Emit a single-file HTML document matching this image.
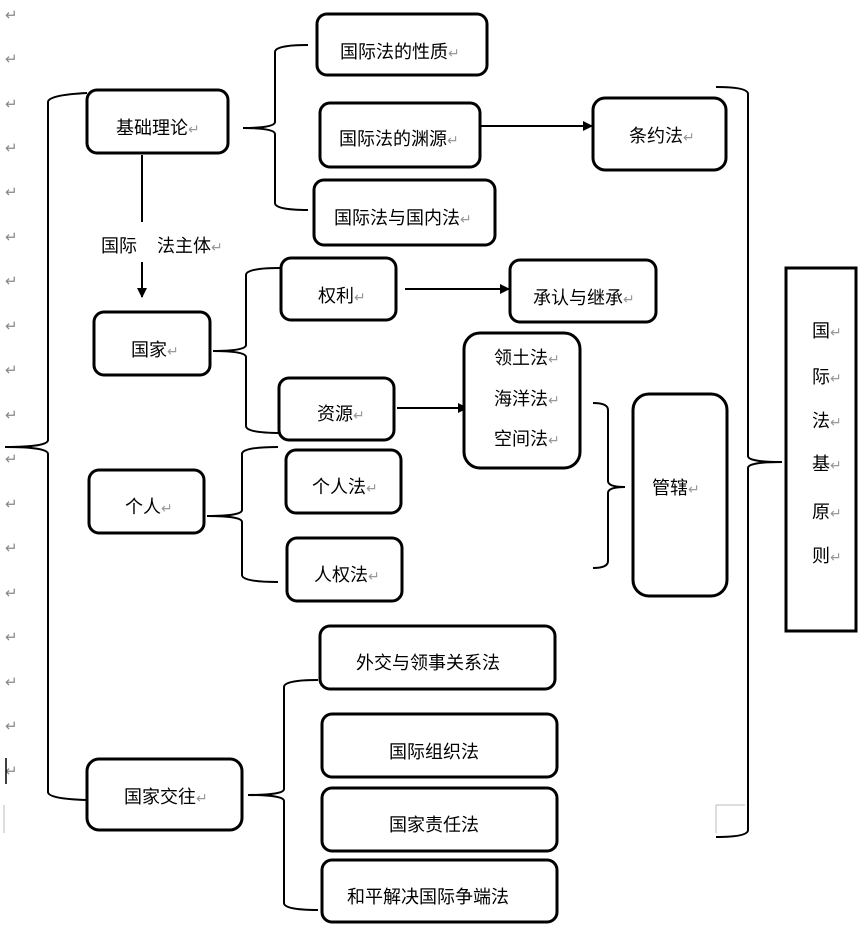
<!DOCTYPE html>
<html><head><meta charset="utf-8"><style>
html,body{margin:0;padding:0;background:#fff;}
svg{display:block;}
text{font-family:"Liberation Sans","Noto Sans CJK SC",sans-serif;font-size:18px;fill:#000;}
.r{fill:#999;font-size:14px;}
.m{fill:#888;font-size:15px;}
</style></head><body>
<svg width="864" height="928" viewBox="0 0 864 928" xmlns="http://www.w3.org/2000/svg">
<defs><marker id="a" markerWidth="10" markerHeight="10" refX="9" refY="5" orient="auto" markerUnits="userSpaceOnUse"><path d="M0,0 L10,5 L0,10 z" fill="#000"/></marker></defs>
<g class="m">
<text x="5" y="20" class="m">↵</text><text x="5" y="64" class="m">↵</text><text x="5" y="109" class="m">↵</text><text x="5" y="153" class="m">↵</text><text x="5" y="197" class="m">↵</text><text x="5" y="242" class="m">↵</text><text x="5" y="286" class="m">↵</text><text x="5" y="331" class="m">↵</text><text x="5" y="375" class="m">↵</text><text x="5" y="420" class="m">↵</text><text x="5" y="464" class="m">↵</text><text x="5" y="509" class="m">↵</text><text x="5" y="553" class="m">↵</text><text x="5" y="598" class="m">↵</text><text x="5" y="642" class="m">↵</text><text x="5" y="687" class="m">↵</text><text x="5" y="731" class="m">↵</text><text x="5" y="776" class="m">↵</text>
</g>
<line x1="6" y1="758" x2="6" y2="784" stroke="#000" stroke-width="1.5"/>
<path d="M4,805 V833 M716,833 V805 H745" stroke="#bbb" stroke-width="1" fill="none"/>
<g fill="none" stroke="#000" stroke-width="2">
<!-- braces -->
<path d="M87,93 Q48,95 48,102 L48,440 Q48,447 5,447 Q48,447 48,454 L48,792 Q48,799 87,800"/>
<path d="M308,45 Q275,45 275,52 L275,122 Q275,128 243,128 Q275,128 275,134 L275,203 Q275,210 308,210"/>
<path d="M280,268 Q246,268 246,275 L246,345 Q246,351 213,351 Q246,351 246,357 L246,426 Q246,433 280,433"/>
<path d="M278,447 Q242,447 242,454 L242,510 Q242,516 207,516 Q242,516 242,522 L242,575 Q242,582 278,582"/>
<path d="M318,680 Q284,680 284,687 L284,789 Q284,795 248,795 Q284,795 284,801 L284,903 Q284,910 318,910"/>
<path d="M593,403 Q608,403 608,410 L608,481 Q608,487 625,487 Q608,487 608,493 L608,561 Q608,568 593,568"/>
<path d="M716,87 Q748,87 748,94 L748,456 Q748,462 782,462 Q748,462 748,468 L748,830 Q748,837 716,837"/>
<!-- arrows -->
<path d="M142,155 V222 M142,262 V297" marker-end="url(#a)"/>
<line x1="480" y1="126" x2="592" y2="126" marker-end="url(#a)"/>
<line x1="405" y1="289" x2="509" y2="289" marker-end="url(#a)"/>
<line x1="397" y1="408" x2="467" y2="408" marker-end="url(#a)"/>
</g>
<g fill="#fff" stroke="#000" stroke-width="3">
<rect x="317" y="14" width="170" height="61" rx="10"/>
<rect x="87" y="90" width="141" height="63" rx="10"/>
<rect x="320" y="103" width="160" height="64" rx="10"/>
<rect x="593" y="98" width="133" height="72" rx="12"/>
<rect x="314" y="180" width="181" height="65" rx="10"/>
<rect x="281" y="258" width="115" height="62" rx="10"/>
<rect x="510" y="260" width="146" height="62" rx="10"/>
<rect x="94" y="312" width="116" height="63" rx="10"/>
<rect x="464" y="333" width="116" height="135" rx="16"/>
<rect x="279" y="378" width="115" height="62" rx="10"/>
<rect x="286" y="450" width="115" height="63" rx="10"/>
<rect x="89" y="470" width="115" height="63" rx="10"/>
<rect x="633" y="394" width="94" height="202" rx="16"/>
<rect x="287" y="538" width="115" height="63" rx="10"/>
<rect x="786" y="268" width="70" height="363" rx="0"/>
<rect x="320" y="626" width="235" height="63" rx="10"/>
<rect x="322" y="714" width="235" height="63" rx="10"/>
<rect x="322" y="788" width="235" height="63" rx="10"/>
<rect x="322" y="860" width="235" height="62" rx="10"/>
<rect x="87" y="759" width="155" height="71" rx="12"/>
</g>
<rect x="138" y="224" width="8" height="36" fill="#fff"/>
<g>
<text x="340" y="58">国际法的性质<tspan class="r">↵</tspan></text>
<text x="116" y="134">基础理论<tspan class="r">↵</tspan></text>
<text x="339" y="145">国际法的渊源<tspan class="r">↵</tspan></text>
<text x="629" y="142">条约法<tspan class="r">↵</tspan></text>
<text x="334" y="224">国际法与国内法<tspan class="r">↵</tspan></text>
<text x="101" y="252">国际</text>
<text x="157" y="252">法主体<tspan class="r">↵</tspan></text>
<text x="318" y="302">权利<tspan class="r">↵</tspan></text>
<text x="533" y="304">承认与继承<tspan class="r">↵</tspan></text>
<text x="131" y="356">国家<tspan class="r">↵</tspan></text>
<text x="494" y="364">领土法<tspan class="r">↵</tspan></text>
<text x="494" y="405">海洋法<tspan class="r">↵</tspan></text>
<text x="494" y="445">空间法<tspan class="r">↵</tspan></text>
<text x="317" y="420">资源<tspan class="r">↵</tspan></text>
<text x="312" y="493">个人法<tspan class="r">↵</tspan></text>
<text x="125" y="513">个人<tspan class="r">↵</tspan></text>
<text x="652" y="494">管辖<tspan class="r">↵</tspan></text>
<text x="314" y="581">人权法<tspan class="r">↵</tspan></text>
<text x="812" y="337">国<tspan class="r">↵</tspan></text>
<text x="812" y="383">际<tspan class="r">↵</tspan></text>
<text x="812" y="427">法<tspan class="r">↵</tspan></text>
<text x="812" y="470">基<tspan class="r">↵</tspan></text>
<text x="812" y="518">原<tspan class="r">↵</tspan></text>
<text x="812" y="562">则<tspan class="r">↵</tspan></text>
<text x="356" y="669">外交与领事关系法</text>
<text x="389" y="758">国际组织法</text>
<text x="389" y="831">国家责任法</text>
<text x="347" y="903">和平解决国际争端法</text>
<text x="124" y="803">国家交往<tspan class="r">↵</tspan></text>
</g>
</svg>
</body></html>
